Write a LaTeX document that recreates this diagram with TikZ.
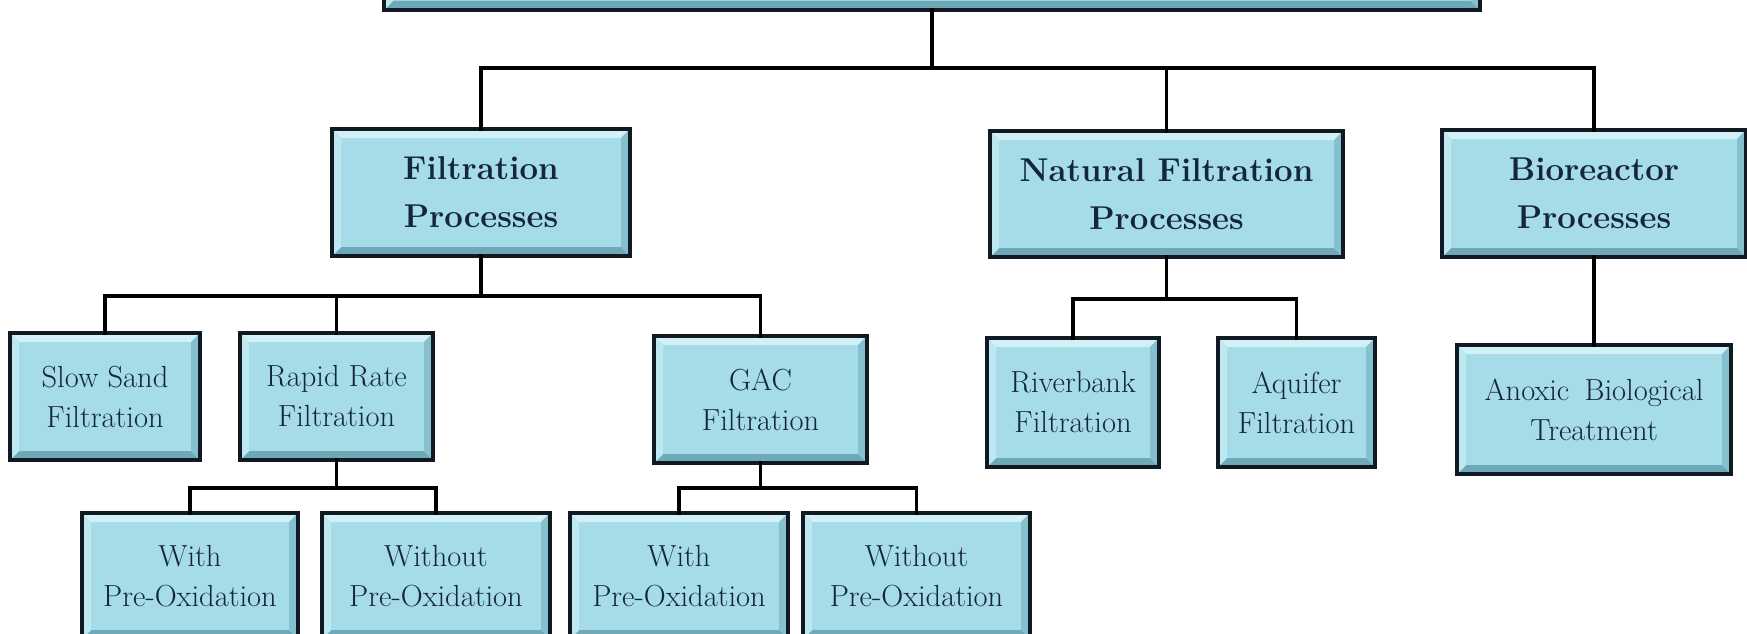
\documentclass[tikz,border=0pt]{standalone}
\usetikzlibrary{calc}
\definecolor{boxfill}{HTML}{A6DBE8}
\definecolor{boxlight}{HTML}{D2F1F7}
\definecolor{boxside}{HTML}{BDE8F1}
\definecolor{boxdark}{HTML}{6FA8B7}
\definecolor{boxrdark}{HTML}{86C0CF}
\definecolor{boxline}{HTML}{111A22}
\definecolor{textcol}{HTML}{14263A}
\begin{document}
\begin{tikzpicture}[x=1pt,y=-1pt,
  pbox/.style={draw=boxline, line width=4pt, fill=boxfill, inner sep=0pt, outer sep=0pt,
    align=center, text=textcol, anchor=north west,
    path picture={
      \fill[boxlight] (path picture bounding box.north west) -- (path picture bounding box.north east)
        -- ([xshift=-9pt,yshift=-9pt]path picture bounding box.north east)
        -- ([xshift=9pt,yshift=-9pt]path picture bounding box.north west) -- cycle;
      \fill[boxdark] (path picture bounding box.south west) -- (path picture bounding box.south east)
        -- ([xshift=-9pt,yshift=9pt]path picture bounding box.south east)
        -- ([xshift=9pt,yshift=9pt]path picture bounding box.south west) -- cycle;
      \fill[boxside] (path picture bounding box.north west) -- (path picture bounding box.south west)
        -- ([xshift=9pt,yshift=9pt]path picture bounding box.south west)
        -- ([xshift=9pt,yshift=-9pt]path picture bounding box.north west) -- cycle;
      \fill[boxrdark] (path picture bounding box.north east) -- (path picture bounding box.south east)
        -- ([xshift=-9pt,yshift=9pt]path picture bounding box.south east)
        -- ([xshift=-9pt,yshift=-9pt]path picture bounding box.north east) -- cycle;
    }},
  headbox/.style={pbox, font=\fontsize{33}{48}\selectfont\bfseries},
  subbox/.style={pbox, font=\fontsize{30.5}{40}\selectfont},
  conn/.style={draw=black, line width=3.2pt, line cap=rect, line join=miter}
]
\useasboundingbox (0,0) rectangle (1747,634);
\begin{scope}
\clip (0,0) rectangle (1747,634);
% top (cut off) box
\node[pbox, minimum width=1096pt, minimum height=80pt] (top) at (384,-70) {};
% level 1
\node[headbox, minimum width=298pt, minimum height=127pt] (filt) at (332,129) {Filtration\\Processes};
\node[headbox, minimum width=353pt, minimum height=126pt] (nat) at (990,131) {Natural Filtration\\Processes};
\node[headbox, minimum width=304pt, minimum height=127pt] (bio) at (1442,130) {Bioreactor\\Processes};
% level 2
\node[subbox, minimum width=190pt, minimum height=127pt] (slow) at (10,333) {Slow Sand\\Filtration};
\node[subbox, minimum width=193pt, minimum height=127pt] (rapid) at (240,333) {Rapid Rate\\Filtration};
\node[subbox, minimum width=213pt, minimum height=127pt] (gac) at (654,336) {GAC\\Filtration};
\node[subbox, minimum width=172pt, minimum height=129pt] (river) at (987,338) {Riverbank\\Filtration};
\node[subbox, minimum width=157pt, minimum height=129pt] (aqui) at (1218,338) {Aquifer\\Filtration};
\node[subbox, minimum width=274pt, minimum height=129pt] (anox) at (1457,345) {Anoxic\hspace{0.2em} Biological\\Treatment};
% level 3
\node[subbox, minimum width=216pt, minimum height=126pt] (rw) at (82,513) {With\\Pre-Oxidation};
\node[subbox, minimum width=228pt, minimum height=126pt] (rwo) at (322,513) {Without\\Pre-Oxidation};
\node[subbox, minimum width=218pt, minimum height=126pt] (gw) at (570,513) {With\\Pre-Oxidation};
\node[subbox, minimum width=227pt, minimum height=126pt] (gwo) at (803,513) {Without\\Pre-Oxidation};
\end{scope}
% bus points
\coordinate (b1) at (top.south |- 0,68);
\coordinate (b2) at (filt.south |- 0,296);
\coordinate (b3) at (nat.south |- 0,299);
\coordinate (b4) at (rapid.south |- 0,488);
\coordinate (b5) at (gac.south |- 0,488);
% connectors
\draw[conn] (top.south) -- (b1);
\draw[conn] (filt.north) |- (b1) -| (bio.north);
\draw[conn] (nat.north) -- (nat.north |- b1);
\draw[conn] (filt.south) -- (b2);
\draw[conn] (slow.north) |- (b2) -| (gac.north);
\draw[conn] (rapid.north) -- (rapid.north |- b2);
\draw[conn] (nat.south) -- (b3);
\draw[conn] (river.north) |- (b3) -| (aqui.north);
\draw[conn] (bio.south) -- (bio.south |- anox.north);
\draw[conn] (rapid.south) -- (b4);
\draw[conn] (rw.north) |- (b4) -| (rwo.north);
\draw[conn] (gac.south) -- (b5);
\draw[conn] (gw.north) |- (b5) -| (gwo.north);
\end{tikzpicture}
\end{document}
